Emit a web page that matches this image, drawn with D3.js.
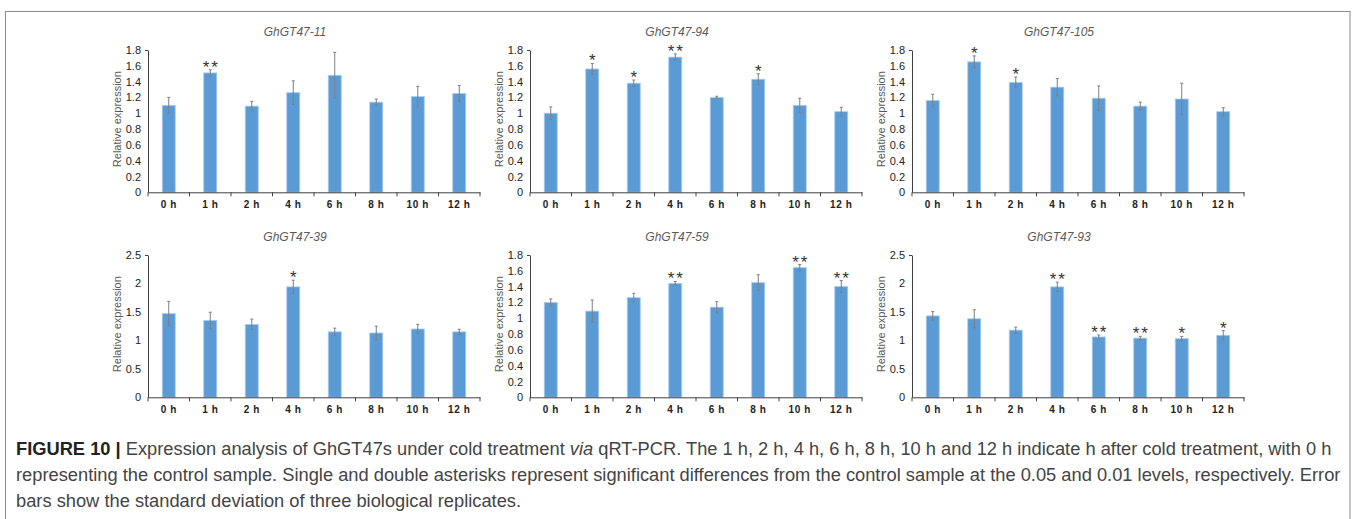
<!DOCTYPE html>
<html>
<head>
<meta charset="utf-8">
<script src="https://cdn.jsdelivr.net/npm/d3@7/dist/d3.min.js"></script>
<style>
  html, body { margin: 0; padding: 0; background: #fff; }
  svg { display: block; }
</style>
</head>
<body>
<svg id="chart" width="1354" height="519"></svg>
<script>
// ---------- DATA ----------
const categories = ["0 h", "1 h", "2 h", "4 h", "6 h", "8 h", "10 h", "12 h"];

const geneNames = ["GhGT47-11", "GhGT47-94", "GhGT47-105", "GhGT47-39", "GhGT47-59", "GhGT47-93"];

const values11  = [1.10, 1.51, 1.09, 1.26, 1.48, 1.14, 1.21, 1.25];
const errors11  = [0.10, 0.04, 0.06, 0.15, 0.29, 0.04, 0.13, 0.10];
const signif11  = ["", "**", "", "", "", "", "", ""];

const values94  = [1.00, 1.56, 1.38, 1.71, 1.20, 1.43, 1.10, 1.02];
const errors94  = [0.08, 0.07, 0.04, 0.04, 0.015, 0.07, 0.09, 0.055];
const signif94  = ["", "*", "*", "**", "", "*", "", ""];

const values105 = [1.16, 1.65, 1.39, 1.33, 1.19, 1.09, 1.18, 1.02];
const errors105 = [0.08, 0.075, 0.068, 0.11, 0.155, 0.05, 0.20, 0.05];
const signif105 = ["", "*", "*", "", "", "", "", ""];

const values39  = [1.47, 1.35, 1.28, 1.94, 1.15, 1.13, 1.20, 1.15];
const errors39  = [0.215, 0.145, 0.094, 0.117, 0.065, 0.12, 0.08, 0.046];
const signif39  = ["", "", "", "*", "", "", "", ""];

const values59  = [1.20, 1.09, 1.26, 1.44, 1.14, 1.45, 1.64, 1.40];
const errors59  = [0.045, 0.14, 0.055, 0.025, 0.07, 0.10, 0.04, 0.076];
const signif59  = ["", "", "", "**", "", "", "**", "**"];

const values93  = [1.43, 1.38, 1.18, 1.94, 1.06, 1.04, 1.03, 1.09];
const errors93  = [0.076, 0.158, 0.053, 0.082, 0.035, 0.03, 0.04, 0.082];
const signif93  = ["", "", "", "**", "**", "**", "*", "*"];

const ticks18 = [0, 0.2, 0.4, 0.6, 0.8, 1, 1.2, 1.4, 1.6, 1.8];
const tickLabels18 = ["0", "0.2", "0.4", "0.6", "0.8", "1", "1.2", "1.4", "1.6", "1.8"];
const ticks25 = [0, 0.5, 1, 1.5, 2, 2.5];
const tickLabels25 = ["0", "0.5", "1", "1.5", "2", "2.5"];

const yAxisTitle = "Relative expression";

const captionBold = "FIGURE 10 | ";
const captionLines = [
  "Expression analysis of GhGT47s under cold treatment |via| qRT-PCR. The 1 h, 2 h, 4 h, 6 h, 8 h, 10 h and 12 h indicate h after cold treatment, with 0 h",
  "representing the control sample. Single and double asterisks represent significant differences from the control sample at the 0.05 and 0.01 levels, respectively. Error",
  "bars show the standard deviation of three biological replicates."
];

// ---------- PANELS ----------
const panels = [
  { title: geneNames[0], values: values11,  errors: errors11,  signif: signif11,  ticks: ticks18, labels: tickLabels18 },
  { title: geneNames[1], values: values94,  errors: errors94,  signif: signif94,  ticks: ticks18, labels: tickLabels18 },
  { title: geneNames[2], values: values105, errors: errors105, signif: signif105, ticks: ticks18, labels: tickLabels18 },
  { title: geneNames[3], values: values39,  errors: errors39,  signif: signif39,  ticks: ticks25, labels: tickLabels25 },
  { title: geneNames[4], values: values59,  errors: errors59,  signif: signif59,  ticks: ticks18, labels: tickLabels18 },
  { title: geneNames[5], values: values93,  errors: errors93,  signif: signif93,  ticks: ticks25, labels: tickLabels25 }
];

const svg = d3.select("#chart");

// outer frame
svg.append("rect")
  .attr("x", 5.5).attr("y", 11.5)
  .attr("width", 1344.5).attr("height", 540)
  .attr("fill", "none").attr("stroke", "#8a8a8a").attr("stroke-width", 1);

const colX = [148, 530, 912];
const rowTop = [50, 255];
const plotW = 332, plotH = 142.3;

panels.forEach((p, i) => {
  const col = i % 3, row = Math.floor(i / 3);
  const g = svg.append("g").attr("transform", `translate(${colX[col]},${rowTop[row]})`);

  const x = d3.scaleBand().domain(categories).range([0, plotW])
    .paddingInner(0.687).paddingOuter(0.687 / 2);
  const y = d3.scaleLinear().domain([0, d3.max(p.ticks)]).range([plotH, 0]);

  // title
  g.append("text")
    .attr("x", plotW / 2 - 19).attr("y", -14)
    .attr("text-anchor", "middle")
    .attr("font-family", "Liberation Sans, Arial, sans-serif")
    .attr("font-style", "italic").attr("font-size", 12)
    .attr("fill", "#5a5a5a")
    .text(p.title);

  // y axis title
  g.append("text")
    .attr("transform", `translate(${-27},${plotH / 2 - 2}) rotate(-90)`)
    .attr("text-anchor", "middle")
    .attr("font-family", "Liberation Sans, Arial, sans-serif")
    .attr("font-size", 11).attr("fill", "#595959")
    .text(yAxisTitle);

  // bars
  g.selectAll("rect.bar").data(p.values).enter().append("rect")
    .attr("class", "bar")
    .attr("x", (d, k) => x(categories[k]))
    .attr("y", d => y(d))
    .attr("width", x.bandwidth())
    .attr("height", d => plotH - y(d))
    .attr("fill", "#5b9bd5")
    .attr("stroke", "#a9cbee").attr("stroke-width", 0.8);

  // error bars
  const eg = g.append("g").attr("stroke", "#7f7f7f").attr("stroke-width", 1);
  p.values.forEach((v, k) => {
    const cx = x(categories[k]) + x.bandwidth() / 2;
    const e = p.errors[k];
    eg.append("line").attr("x1", cx).attr("x2", cx).attr("y1", y(v + e)).attr("y2", y(v - e));
    eg.append("line").attr("x1", cx - 1.5).attr("x2", cx + 1.5).attr("y1", y(v + e)).attr("y2", y(v + e));
    eg.append("line").attr("x1", cx - 1.5).attr("x2", cx + 1.5).attr("y1", y(v - e)).attr("y2", y(v - e));
  });

  // significance
  g.selectAll("text.sig").data(p.signif).enter().append("text")
    .attr("class", "sig")
    .attr("x", (d, k) => x(categories[k]) + x.bandwidth() / 2 + 1)
    .attr("y", (d, k) => y(p.values[k] + p.errors[k]) + 3)
    .attr("text-anchor", "middle")
    .attr("font-family", "Liberation Sans, Arial, sans-serif")
    .attr("font-size", 17).attr("fill", "#333")
    .attr("letter-spacing", 2)
    .text(d => d);

  // y axis
  const yAxis = d3.axisLeft(y).tickValues(p.ticks)
    .tickFormat((d, k) => p.labels[k]).tickSize(0).tickPadding(7);
  const ya = g.append("g").call(yAxis);
  ya.select(".domain").attr("stroke", "#404040");
  ya.selectAll("text").attr("font-family", "Liberation Sans, Arial, sans-serif")
    .attr("font-size", 11).attr("fill", "#222");
  g.append("line").attr("x1", -3).attr("x2", 0).attr("y1", 0.5).attr("y2", 0.5)
    .attr("stroke", "#404040");

  // x axis
  const xa = g.append("g").attr("transform", `translate(0,${plotH})`)
    .call(d3.axisBottom(x).tickSize(0).tickPadding(9));
  xa.select(".domain").attr("stroke", "#404040");
  xa.selectAll("text").attr("font-family", "Liberation Sans, Arial, sans-serif")
    .attr("font-size", 10).attr("font-weight", "bold").attr("fill", "#222")
    .attr("letter-spacing", 0.6);
  const step = x.step();
  d3.range(categories.length + 1).forEach(k => {
    xa.append("line").attr("x1", k * step).attr("x2", k * step)
      .attr("y1", 0).attr("y2", 4).attr("stroke", "#404040");
  });
});

// ---------- CAPTION ----------
const cap = svg.append("g")
  .attr("font-family", "Liberation Sans, Arial, sans-serif")
  .attr("font-size", 18.3).attr("fill", "#444");
const baselines = [455, 481, 507];
captionLines.forEach((line, i) => {
  const t = cap.append("text").attr("x", 16).attr("y", baselines[i]);
  if (i === 0) {
    t.append("tspan").attr("font-weight", "bold").attr("fill", "#222").text(captionBold);
  }
  const parts = line.split("|");
  parts.forEach((part, j) => {
    const ts = t.append("tspan").text(part);
    if (j % 2 === 1) ts.attr("font-style", "italic");
  });
});
</script>
</body>
</html>
